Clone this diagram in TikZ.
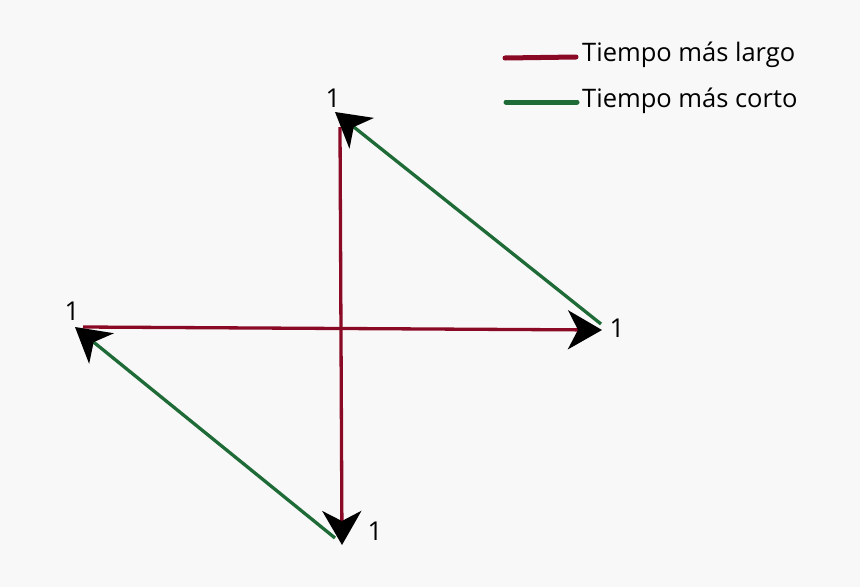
\documentclass[tikz,border=0pt]{standalone}
\usepackage{fontspec}
\setmainfont{Open Sans}
\usetikzlibrary{arrows.meta}
\definecolor{bg}{HTML}{F8F8F8}
\definecolor{longred}{HTML}{8A0A26}
\definecolor{shortgreen}{HTML}{1F6B37}
\tikzset{
  tip/.style={-{Stealth[black,length=34pt,width=39pt,inset=10pt]}},
  longline/.style={draw=longred,line width=3.3pt},
  shortline/.style={draw=shortgreen,line width=3.3pt},
  lbl/.style={font=\fontsize{26}{30}\selectfont,inner sep=0pt,text=black},
  legtext/.style={font=\fontsize{25.5}{30}\selectfont,inner sep=0pt,anchor=base west,text=black},
}
\begin{document}
\begin{tikzpicture}[x=1pt,y=-1pt]
\fill[bg] (0,0) rectangle (860,587);
\useasboundingbox (0,0) rectangle (860,587);
% points
\coordinate (L) at (83,327);
\coordinate (R) at (602,330);
\coordinate (T) at (340,127);
\coordinate (B) at (342,545);
\coordinate (Gr) at (601,324);
\coordinate (Gt) at (335,112);
\coordinate (Gb) at (335,538);
\coordinate (Gl) at (75,327);
% red lines
\draw[longline,tip] (L) -- (R);
\draw[longline,tip] (T) -- (B);
% green lines
\draw[shortline,tip] (Gr) -- (Gt);
\draw[shortline,tip] (Gb) -- (Gl);
% labels
\node[lbl] (n1) at (333,98) {1};
\node[lbl] (n2) at (617,328) {1};
\node[lbl] (n3) at (72,311) {1};
\node[lbl] (n4) at (375,531) {1};
% legend
\coordinate (la) at (505,58);
\coordinate (lb) at (576,57);
\coordinate (lc) at (506,102);
\coordinate (ld) at (577,102);
\draw[draw=longred,line width=5pt,line cap=round] (la) -- (lb);
\draw[draw=shortgreen,line width=5pt,line cap=round] (lc) -- (ld);
\node[legtext] (t1) at (582,61) {Tiempo más largo};
\node[legtext] (t2) at (582,107) {Tiempo más corto};
\end{tikzpicture}
\end{document}
